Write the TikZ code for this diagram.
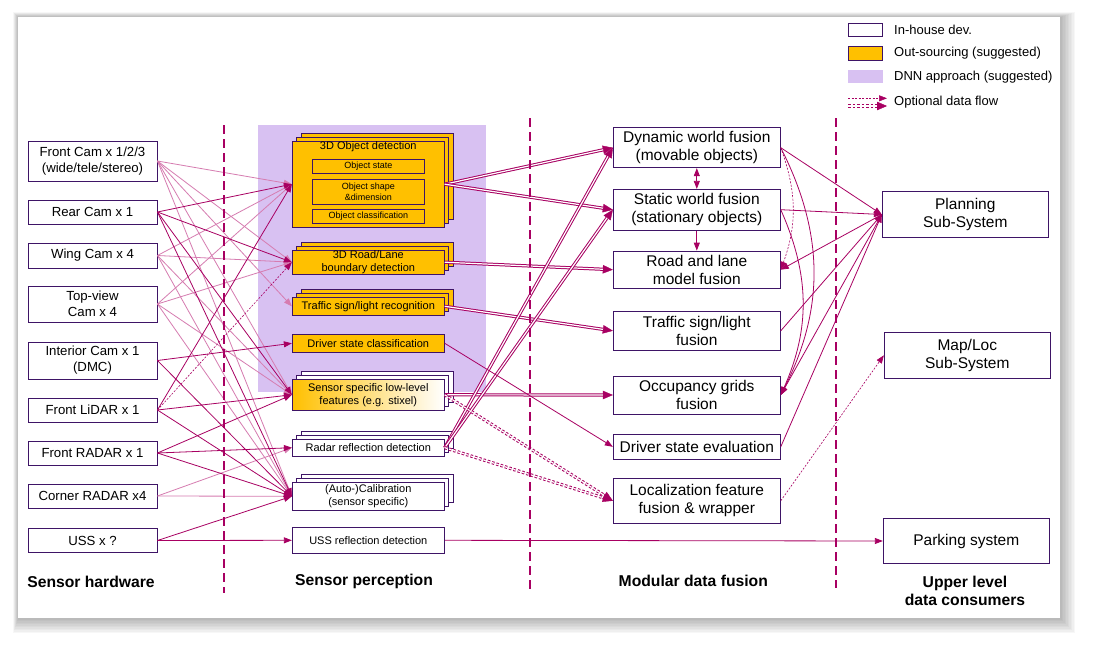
\documentclass[tikz,border=0pt]{standalone}
\usepackage{fontspec}
\setmainfont{Liberation Sans}
\usetikzlibrary{arrows.meta,shadows}

\definecolor{flowmag}{RGB}{168,0,98}
\definecolor{flowpink}{RGB}{214,124,176}
\definecolor{boxline}{RGB}{62,20,102}
\definecolor{outsrc}{RGB}{255,192,0}
\definecolor{dnnbg}{RGB}{216,193,242}

\tikzset{
  >={Triangle[length=8pt,width=6pt]},
  unit/.style={draw=boxline, line width=0.9pt, inner sep=0pt, align=center},
  sensor/.style={unit, fill=white, minimum width=129pt, font=\fontsize{13.2}{16}\selectfont},
  percep/.style={unit, minimum width=152pt, font=\fontsize{11}{12.7}\selectfont},
  subpart/.style={unit, fill=outsrc, minimum width=112pt, font=\fontsize{9}{10.8}\selectfont},
  fusion/.style={unit, fill=white, minimum width=167pt, font=\fontsize{15.5}{18}\selectfont},
  consumer/.style={unit, fill=white, minimum width=166pt, font=\fontsize{15.5}{18}\selectfont},
  stackora/.style={double copy shadow={shadow xshift=4.5pt, shadow yshift=4pt, fill=outsrc, draw=boxline, line width=0.9pt}},
  stackwhite/.style={double copy shadow={shadow xshift=4.5pt, shadow yshift=4pt, fill=white, draw=boxline, line width=0.9pt}},
  layer/.style={font=\bfseries\fontsize{15.7}{18.5}\selectfont, align=center},
  legtext/.style={anchor=west, inner sep=0pt, font=\fontsize{13}{15}\selectfont},
  flow/.style={->, color=flowmag, line width=0.8pt},
  flowlight/.style={flow, color=flowpink},
  dataflow/.style={draw=flowmag, line width=3.2pt,
    -{Triangle[length=10pt,width=8.5pt,line width=0.4pt]},
    postaction={draw=white, -, line width=1.2pt, shorten >=10pt}},
  optflow/.style={dataflow, dash pattern=on 2.5pt off 2pt},
  optline/.style={flow, line width=0.6pt, dash pattern=on 2pt off 1.5pt},
  layersep/.style={draw=flowmag, line width=1.8pt, dash pattern=on 9pt off 5pt},
}

\begin{document}
\begin{tikzpicture}[x=1pt, y=-1pt]
\useasboundingbox (0,0) rectangle (1109,667);

% Card with soft shadow
\foreach \s in {1,...,10}
  \fill[black, opacity=0.03] ({18-0.5*\s},{17-0.5*\s}) rectangle ({1060+1.5*\s},{618+1.5*\s});
\fill[white] (18,17) rectangle (1060,618);

% DNN area
\fill[dnnbg] (258.3,125) rectangle (486,392.3);

% Legend
\node[unit, fill=white, minimum width=34.7pt, minimum height=12.7pt] (keyinh) at (865.3,29.7) {};
\node[legtext] (keyinhtxt) at (894,29.7) {In-house dev.};
\node[unit, fill=outsrc, minimum width=34.7pt, minimum height=14pt] (keyout) at (865.3,53.3) {};
\node[legtext] (keyouttxt) at (894,53.3) {Out-sourcing (suggested)};
\node[fill=dnnbg, minimum width=35pt, minimum height=12.7pt, inner sep=0pt] (keydnn) at (865.3,76.3) {};
\node[legtext] (keydnntxt) at (894,76.7) {DNN approach (suggested)};
\coordinate (keyoptA) at (848,98.3);
\coordinate (keyoptB) at (887,98.3);
\coordinate (keyoptC) at (848,106);
\coordinate (keyoptD) at (887,106);
\draw[optline] (keyoptA) -- (keyoptB);
\draw[optflow] (keyoptC) -- (keyoptD);
\node[legtext] (keyopttxt) at (894,101.7) {Optional data flow};

% Sensor hardware
\node[sensor, minimum height=40pt] (front) at (92.5,161) {Front Cam x 1/2/3\\(wide/tele/stereo)};
\node[sensor, minimum height=24pt] (rear) at (92.5,212) {Rear Cam x 1};
\node[sensor, minimum height=25pt] (wing) at (92.5,255.5) {Wing Cam x 4};
\node[sensor, minimum height=36pt] (top) at (92.5,304) {Top-view\\Cam x 4};
\node[sensor, minimum height=37pt] (interior) at (92.5,360.5) {Interior Cam x 1\\(DMC)};
\node[sensor, minimum height=24pt] (lidar) at (92.5,410) {Front LiDAR x 1};
\node[sensor, minimum height=24pt] (fradar) at (92.5,453) {Front RADAR x 1};
\node[sensor, minimum height=24pt] (cradar) at (92.5,496) {Corner RADAR x4};
\node[sensor, minimum height=24pt] (uss) at (92.5,540.5) {USS x ?};

% Sensor perception
\node[percep, fill=outsrc, stackora, minimum height=86pt] (obj) at (368.3,184.2) {};
\node[inner sep=0pt, font=\fontsize{11}{12.7}\selectfont] (objtitle) at (368.3,147) {3D Object detection};
\node[subpart, minimum height=14pt] (ostate) at (368.3,166.3) {Object state};
\node[subpart, minimum height=24.6pt] (oshape) at (368.3,192) {Object shape\\\&dimension};
\node[subpart, minimum height=14pt] (oclass) at (368.3,216.3) {Object classification};
\node[percep, fill=outsrc, stackora, minimum height=24.3pt] (road) at (368.3,262.2) {3D Road/Lane\\boundary detection};
\node[percep, fill=outsrc, stackora, minimum height=18.7pt] (sign) at (368.3,306.3) {Traffic sign/light recognition};
\node[percep, fill=outsrc, minimum height=18pt] (drvc) at (368.3,343.3) {Driver state classification};
\node[percep, left color=outsrc, middle color=white, right color=white, stackwhite, minimum height=31pt] (low) at (368.3,394.8) {Sensor specific low-level\\features (e.g. stixel)};
\node[percep, fill=white, stackwhite, minimum height=17.3pt] (radar) at (368.3,447.7) {Radar reflection detection};
\node[percep, fill=white, stackwhite, minimum height=28pt] (calib) at (368.3,496.3) {(Auto-)Calibration\\(sensor specific)};
\node[percep, fill=white, minimum height=26pt] (ussr) at (368.3,540.3) {USS reflection detection};

% Modular data fusion
\node[fusion, minimum height=40pt] (dyn) at (696.8,147.7) {Dynamic world fusion\\(movable objects)};
\node[fusion, minimum height=40.7pt] (stat) at (696.8,209.7) {Static world fusion\\(stationary objects)};
\node[fusion, minimum height=37.3pt] (roadf) at (696.8,269.7) {Road and lane\\model fusion};
\node[fusion, minimum height=38.3pt] (signf) at (696.8,330.8) {Traffic sign/light\\fusion};
\node[fusion, minimum height=38pt] (occ) at (696.8,395) {Occupancy grids\\fusion};
\node[fusion, minimum height=25pt] (drv) at (696.8,446.8) {Driver state evaluation};
\node[fusion, minimum height=45pt] (loc) at (696.8,500.8) {Localization feature\\fusion \& wrapper};

% Upper level data consumers
\node[consumer, minimum height=45.6pt] (plan) at (965.3,214.5) {Planning\\Sub-System};
\node[consumer, minimum height=46pt] (maploc) at (967.3,355.3) {Map/Loc\\Sub-System};
\node[consumer, minimum height=44.7pt] (park) at (966.3,541) {Parking system};

% Layer titles
\node[layer] (hwtitle) at (91,581.7) {Sensor hardware};
\node[layer] (perctitle) at (364,581.7) {Sensor perception};
\node[layer] (fustitle) at (693.3,581) {Modular data fusion};
\node[layer] (constitle) at (965,591) {Upper level\\data consumers};

% Sensors to perception
\path[flowlight] (front.east) edge (obj.west) edge (road.west) edge (sign.west) edge (low.west) edge (calib.west);
\path[flowlight] (wing.east) edge (obj.west) edge (road.west) edge (low.west) edge (calib.west);
\path[flowlight] (top.east) edge (obj.west) edge (road.west) edge (low.west) edge (calib.west);
\path[flowlight] (cradar.east) edge (radar.west) edge (calib.west);
\path[flow] (rear.east) edge (obj.west) edge (road.west) edge (low.west) edge (calib.west);
\path[flow] (interior.east) edge (drvc.west) edge (calib.west);
\path[flow] (lidar.east) edge (obj.west) edge (low.west) edge (calib.west);
\draw[optline] (lidar.east) -- (road.west);
\path[flow] (fradar.east) edge (low.west) edge (radar.west) edge (calib.west);
\path[flow] (uss.east) edge (calib.west) edge (ussr.west);

% Perception to fusion
\draw[dataflow] (obj.east) -- (dyn.west);
\draw[dataflow] (obj.east) -- (stat.west);
\draw[dataflow] (road.east) -- (roadf.west);
\draw[dataflow] (sign.east) -- (signf.west);
\draw[dataflow] (low.east) -- (occ.west);
\draw[dataflow] (radar.east) -- (dyn.west);
\draw[dataflow] (radar.east) -- (stat.west);
\draw[flow] (drvc.east) -- (drv.west);
\draw[optflow] (low.east) -- (loc.west);
\draw[optflow] (radar.east) -- (loc.west);
\draw[flow] (ussr.east) -- (park.west);

% Inside fusion
\draw[flow, <->] (dyn.south) -- (stat.north);
\draw[flow] (stat.south) -- (roadf.north);
\draw[optline] (dyn.east) to[out=-70, in=70] (roadf.east);
\draw[flow] (dyn.east) to[out=-63, in=63] (occ.east);
\draw[flow] (stat.east) to[out=-66, in=66] (occ.east);

% Fusion to consumers
\draw[flow] (dyn.east) -- (plan.west);
\draw[flow] (stat.east) -- (plan.west);
\draw[flow] (signf.east) -- (plan.west);
\draw[flow] (drv.east) -- (plan.west);
\draw[flow] (plan.west) -- (roadf.east);
\draw[flow] (plan.west) -- (occ.east);
\draw[optline] (loc.east) -- (maploc.west);

% Layer separators
\draw[layersep] (224,125) -- (224,593);
\draw[layersep] (530,118) -- (530,590);
\draw[layersep] (836,118) -- (836,588);

\end{tikzpicture}
\end{document}
